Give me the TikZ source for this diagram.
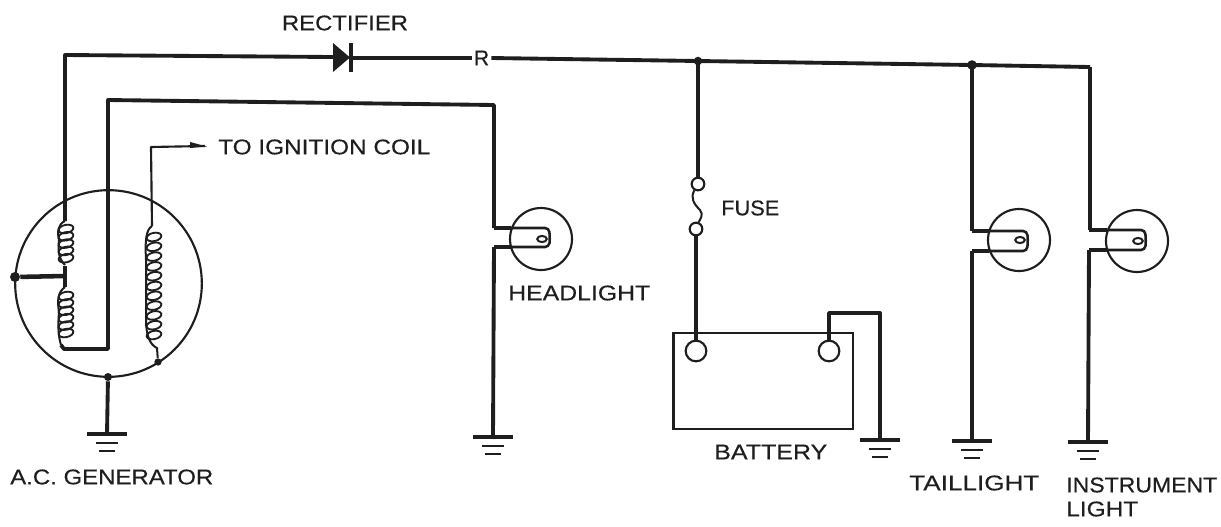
\documentclass[tikz,border=0pt]{standalone}
\usepackage{graphicx}
\usepackage{fontspec}
\setmainfont[FakeBold=0.35]{Liberation Sans}
\definecolor{ink}{HTML}{1E1E1E}
\tikzset{
  x=0.75pt,y=-0.75pt,
  wire/.style={draw=ink,line width=2.9pt,line join=round},
  thin wire/.style={draw=ink,line width=1.6pt,line join=round},
  outline/.style={draw=ink,line width=1.6pt},
  ring/.style={circle,draw=ink,line width=1.6pt,inner sep=0pt,minimum size=#1},
  dot/.style={circle,fill=ink,inner sep=0pt,minimum size=7.5pt},
  lbl/.style={text=ink,font=\fontsize{16pt}{19pt}\selectfont,inner sep=0pt}
}
% text set to an exact width in reference pixels
\newcommand{\fitw}[2]{\resizebox{\dimexpr #1pt*3/4\relax}{\height}{#2}}
% ground symbol hanging from a named coordinate
\newcommand{\gndsym}[1]{%
  \draw[ink,line width=2.6pt] ([xshift=-15pt]#1) -- ([xshift=15pt]#1);
  \draw[ink,line width=1.5pt] ([xshift=-8.5pt,yshift=-6.5pt]#1) -- ([xshift=8.5pt,yshift=-6.5pt]#1);
  \draw[ink,line width=1.5pt] ([xshift=-6pt,yshift=-13pt]#1) -- ([xshift=6pt,yshift=-13pt]#1);
}
% coil: x, first y, number of turns, pitch
\newcommand{\coilsym}[4]{%
  \foreach \k in {1,...,#3}{
    \draw[ink,line width=1.4pt] (#1+1,{#2+(\k-1)*#4}) ellipse [x radius=5.6pt,y radius=3.1pt,rotate=12];
  }
}
% lamp: name, wire x, centre x, centre y, top y, bottom y
\newcommand{\lampsym}[6]{%
  \node[ring=46.5pt] (#1) at (#3,#4) {};
  \draw[ink,line width=1.5pt] (#3+1,#4) ellipse [x radius=3.6pt,y radius=2.3pt];
  \draw[ink,line width=1.9pt,rounded corners=3pt] (#3-30,#5) -- (#3+8,#5) -- (#3+9,#4) -- (#3+8,#6) -- (#3-30,#6);
  \draw[ink,line width=2.9pt] (#2-1,#5) -- (#3-30,#5) (#2-1,#6) -- (#3-30,#6);
}
\begin{document}
\begin{tikzpicture}
\useasboundingbox (0,0) rectangle (1221,526);
% generator
\node[ring=140pt] (gen) at (108.5,283.5) {};
\node[dot] (genL) at (15,277) {};
\node[dot,minimum size=6pt] (genB) at (108,377) {};
\node[dot,minimum size=5.5pt] (genC) at (158,362) {};
\coordinate (c1t) at (65,221);
\coordinate (c1m) at (65,276);
\coordinate (c1b) at (65,349);
\coordinate (ret) at (108,349);
\coordinate (ltop) at (108,100);
\coordinate (ltr) at (494,105);
\coordinate (topL) at (65,55);
\coordinate (c2t) at (152,226);
\coordinate (ignC) at (151,147);
\coordinate (ignE) at (205,146);
\coordinate (g1) at (107,434);
\coordinate (g2) at (493,437);
\coordinate (g3) at (880,440);
\coordinate (g4) at (972,441);
\coordinate (g5) at (1088,442);
\coordinate (j1) at (698,61);
\coordinate (j2) at (972,65);
\coordinate (tr) at (1090,67);
\coordinate (b1) at (829,313);
\coordinate (b2) at (880,313);
\coordinate (dA) at (333,57);
\coordinate (dB) at (352,58);
% coils
\coilsym{65}{229}{5}{7.3}
\coilsym{65}{296}{6}{7.4}
\coilsym{153}{237}{11}{9.8}
\draw[ink,line width=1.5pt] (65,221) .. controls (58,224) and (57,232) .. (59,240) .. controls (58,250) and (58,258) .. (65,265);
\draw[ink,line width=1.5pt] (65,287) .. controls (58,292) and (57,300) .. (59,312) .. controls (58,325) and (58,335) .. (61,345);
\draw[ink,line width=1.5pt] (152,226) .. controls (146,230) and (145,240) .. (146,260) -- (146,320) .. controls (146,335) and (150,345) .. (157,348) -- (genC);
% generator wiring
\draw[wire] (dA) -- (topL) -- (c1t);
\draw[wire,line width=3.4pt] (genL) -- (c1m);
\draw[wire] (65,266) -- (65,287);
\draw[wire] (61,345) -- (64,349) -- (ret) -- (ltop) -- (ltr) -- (494,228);
\draw[thin wire] (c2t) -- (ignC) -- (ignE);
\fill[ink] (190,142) -- (207,146.5) -- (190,148) -- cycle;
\draw[wire] (genB) -- (g1);
\gndsym{g1}
% rectifier
\fill[ink] (333,43) -- (350,57.5) -- (333,72) -- cycle;
\draw[ink,line width=2.6pt] (351,43) -- (351,72);
\node[lbl,inner xsep=1.5pt] (rlab) at (481.5,58) {R};
\draw[wire] (dB) -- (rlab.west);
\draw[wire] (rlab.east) -- (j1) -- (j2) -- (tr);
\fill[ink] (j1) circle (3.2pt) (j2) circle (3.6pt);
% fuse
\node[ring=9.5pt] (fa) at (698,184) {};
\node[ring=9.5pt] (fb) at (696,229) {};
\draw[wire] (j1) -- (fa);
\draw[ink,line width=1.5pt] (fa) .. controls (690,198) and (694,204) .. (700,210) .. controls (704,215) and (700,219) .. (fb);
% battery
\draw[outline] (673.5,333) rectangle (853,429);
\node[ring=15.5pt] (bp) at (696,351) {};
\node[ring=15.5pt] (bn) at (829,351) {};
\draw[wire] (fb) -- (bp);
\draw[wire] (bn) -- (b1) -- (b2) -- (g3);
\gndsym{g3}
% headlight
\lampsym{hl}{495}{541}{239}{228}{247}
\draw[wire] (494,247) -- (g2);
\gndsym{g2}
% taillight
\lampsym{tl}{973}{1019}{240}{231}{251}
\draw[wire] (j2) -- (972,231);
\draw[wire] (972,251) -- (g4);
\gndsym{g4}
% instrument light
\lampsym{il}{1090}{1137}{241}{230}{250}
\draw[wire] (tr) -- (1090,230);
\draw[wire] (1089,250) -- (g5);
\gndsym{g5}
% labels
\node[lbl] at (345,23) {\fitw{126}{RECTIFIER}};
\node[lbl,anchor=west] at (218,147) {\fitw{212}{TO IGNITION COIL}};
\node[lbl,anchor=west] at (508,293) {\fitw{142}{HEADLIGHT}};
\node[lbl,anchor=west] at (721,208) {\fitw{58}{FUSE}};
\node[lbl,anchor=west] at (714,452) {\fitw{113}{BATTERY}};
\node[lbl,anchor=west] at (10,477) {\fitw{203}{A.C. GENERATOR}};
\node[lbl,anchor=west] at (909,483) {\fitw{130}{TAILLIGHT}};
\node[lbl,anchor=west] at (1066,485) {\fitw{151}{INSTRUMENT}};
\node[lbl,anchor=west] at (1066,509) {\fitw{72}{LIGHT}};
\end{tikzpicture}
\end{document}
